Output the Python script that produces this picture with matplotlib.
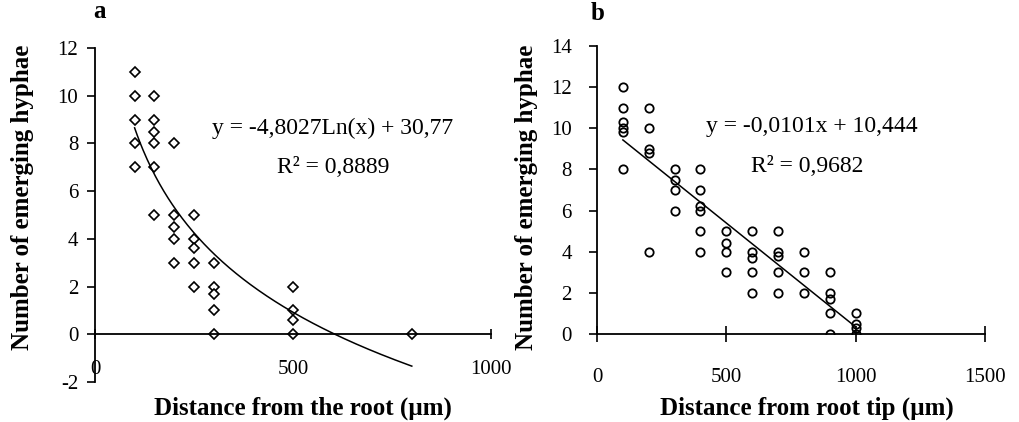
import numpy as np
import matplotlib

matplotlib.use('Agg')
import matplotlib.pyplot as plt

plt.rcParams['font.family'] = ['Liberation Serif', 'DejaVu Serif']
plt.rcParams['axes.unicode_minus'] = False

# panel a: distance from the root vs emerging hyphae
dist_a = [100, 100, 100, 100, 100,
          150, 150, 150, 150, 150, 150,
          200, 200, 200, 200, 200,
          250, 250, 250, 250, 250,
          300, 300, 300, 300, 300,
          500, 500, 500, 500,
          800]
hyphae_a = [11, 10, 9, 8, 7,
            10, 9, 8.5, 8, 7, 5,
            8, 5, 4.5, 4, 3,
            5, 4, 3.6, 3, 2,
            3, 2, 1.7, 1, 0,
            2, 1, 0.6, 0,
            0]
fit_a = (-4.8027, 30.77)
eq_a = 'y = -4,8027Ln(x) + 30,77'
r2_a = 'R\u00b2 = 0,8889'

# panel b: distance from root tip vs emerging hyphae
dist_b = [100, 100, 100, 100, 100, 100,
          200, 200, 200, 200, 200,
          300, 300, 300, 300,
          400, 400, 400, 400, 400, 400,
          500, 500, 500, 500,
          600, 600, 600, 600, 600,
          700, 700, 700, 700, 700,
          800, 800, 800,
          900, 900, 900, 900, 900,
          1000, 1000, 1000, 1000]
hyphae_b = [12, 11, 10.3, 10, 9.8, 8,
            11, 10, 9, 8.8, 4,
            8, 7.5, 7, 6,
            8, 7, 6.2, 6, 5, 4,
            5, 4.4, 4, 3,
            5, 4, 3.7, 3, 2,
            5, 4, 3.8, 3, 2,
            4, 3, 2,
            3, 2, 1.7, 1, 0,
            1, 0.5, 0.3, 0]
fit_b = (-0.0101, 10.444)
eq_b = 'y = -0,0101x + 10,444'
r2_b = 'R\u00b2 = 0,9682'

W, H = 1020, 422
fig = plt.figure(figsize=(W / 100, H / 100), dpi=100)


def px(x0, y0, x1, y1):
    # pixel box (left, top, right, bottom) -> figure fraction rect
    return [x0 / W, 1 - y1 / H, (x1 - x0) / W, (y1 - y0) / H]


def style_axis(ax, xlen, xpad):
    for side in ('top', 'right'):
        ax.spines[side].set_visible(False)
    ax.spines['left'].set_linewidth(1.3)
    ax.spines['bottom'].set_linewidth(1.3)
    ax.spines['bottom'].set_position(('data', 0))
    ax.tick_params(axis='y', direction='out', length=6, width=1.2,
                   labelsize=15, pad=6)
    ax.tick_params(axis='x', direction='inout', length=xlen, width=1.2,
                   labelsize=15, pad=xpad)


ax_a = fig.add_axes(px(95, 48, 491, 382))
ax_a.plot(dist_a, hyphae_a, linestyle='none', marker='D', markersize=5.4,
          markerfacecolor='white', markeredgecolor='black',
          markeredgewidth=1.2)
xs = np.linspace(100, 800, 200)
ax_a.plot(xs, fit_a[0] * np.log(xs) + fit_a[1], color='black', lw=1.1)
ax_a.set_xlim(0, 1000)
ax_a.set_ylim(-2, 12)
ax_a.set_xticks([0, 500, 1000])
ax_a.set_yticks(range(-2, 13, 2))
style_axis(ax_a, 7, 15)
ax_a.text(0.599, 0.760, eq_a, transform=ax_a.transAxes, fontsize=17,
          ha='center', va='center')
ax_a.text(0.601, 0.641, r2_a, transform=ax_a.transAxes, fontsize=17,
          ha='center', va='center')

ax_b = fig.add_axes(px(597, 46, 985, 334))
ax_b.plot(dist_b, hyphae_b, linestyle='none', marker='o', markersize=6,
          markerfacecolor='none', markeredgecolor='black',
          markeredgewidth=1.3)
xs = np.linspace(100, 1000, 50)
ax_b.plot(xs, fit_b[0] * xs + fit_b[1], color='black', lw=1.1)
ax_b.set_xlim(0, 1500)
ax_b.set_ylim(0, 14)
ax_b.set_xticks([0, 500, 1000, 1500])
ax_b.set_yticks(range(0, 15, 2))
style_axis(ax_b, 11, 19)
ax_b.tick_params(axis='y', pad=12)
ax_b.text(0.554, 0.719, eq_b, transform=ax_b.transAxes, fontsize=17,
          ha='center', va='center')
ax_b.text(0.541, 0.580, r2_b, transform=ax_b.transAxes, fontsize=17,
          ha='center', va='center')

label_font = dict(fontsize=18, fontweight='bold')
fig.text(303 / W, 1 - 408 / H, 'Distance from the root (\u00b5m)',
         ha='center', va='center', **label_font)
fig.text(807 / W, 1 - 408 / H, 'Distance from root tip (\u00b5m)',
         ha='center', va='center', **label_font)
fig.text(23 / W, 1 - 197 / H, 'Number of emerging hyphae',
         ha='center', va='center', rotation=90, **label_font)
fig.text(527 / W, 1 - 197 / H, 'Number of emerging hyphae',
         ha='center', va='center', rotation=90, **label_font)
fig.text(100 / W, 1 - 12 / H, 'a', ha='center', va='center', **label_font)
fig.text(598 / W, 1 - 14 / H, 'b', ha='center', va='center', **label_font)

fig.savefig('out.png', dpi=100)
plt.close(fig)
